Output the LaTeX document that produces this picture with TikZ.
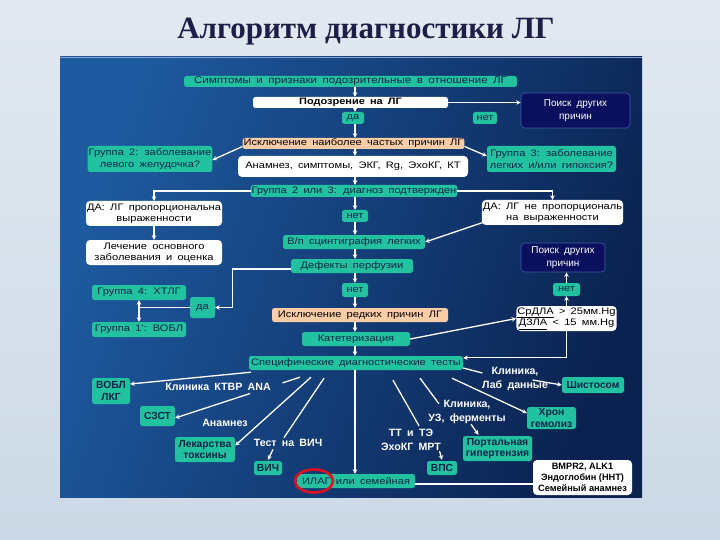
\documentclass[tikz,border=0pt]{standalone}
\usepackage{fontspec}
\setmainfont{Liberation Sans}
\newfontfamily\boxfont[FakeStretch=1.18,WordSpace=1.7]{Liberation Sans}
\newfontfamily\lblfont[WordSpace=1.8]{Liberation Sans}
\newfontfamily\titlefont{Liberation Serif}
\usetikzlibrary{arrows.meta,calc,shapes.geometric}
\definecolor{tealc}{HTML}{22C2A0}
\definecolor{txtnavy}{HTML}{0C2448}
\definecolor{peach}{HTML}{FBCDA6}
\definecolor{navyc}{HTML}{0A0F5E}
\definecolor{navyb}{HTML}{3D5DA8}
\definecolor{ringred}{HTML}{E01020}
\definecolor{titlecol}{HTML}{1C1F48}
\definecolor{bgtop}{HTML}{E2E9F0}
\definecolor{bgbot}{HTML}{CCD9E6}
\definecolor{panL}{HTML}{1E5AA0}
\definecolor{panR}{HTML}{0A2250}
\tikzset{
  sz/.style 2 args={minimum width=#1, minimum height=#2},
  bx/.style={rounded corners=2.5pt, inner sep=1pt, align=center,
    font=\boxfont\fontsize{9.4}{11.5}\selectfont, text=txtnavy},
  tb/.style={bx, fill=tealc},
  wb/.style={bx, fill=white, text=black},
  pb/.style={bx, fill=peach, text=black},
  nb/.style={bx, fill=navyc, draw=navyb, line width=0.6pt, text=white, rounded corners=4pt,
    font=\lblfont\fontsize{10}{12.5}\selectfont},
  bb/.style={bx, fill=tealc, font=\bfseries\fontsize{10.3}{11.5}\selectfont},
  lb/.style={text=white, font=\lblfont\bfseries\fontsize{10.6}{13.5}\selectfont, align=center, inner sep=0.5pt},
  cn/.style={draw=white, line width=1.3pt},
  ar/.style={cn, -{Stealth[length=4.5pt,width=4.5pt]}},
}
\begin{document}
\begin{tikzpicture}[x=1pt,y=-1pt]
\useasboundingbox (0,0) rectangle (720,540);
\shade[top color=bgtop, bottom color=bgbot] (0,0) rectangle (720,540);
\shade[left color=panL, right color=panR, shading angle=70] (60,57) rectangle (642,497);
\draw[navyb!60!white, line width=0.6pt] (60,57) -- (642,57);

\node[font=\titlefont\bfseries\fontsize{31}{33}\selectfont, text=titlecol] (title) at (366,32) {Алгоритм диагностики ЛГ};

% nodes
\node[tb, sz={333}{11}, font=\boxfont\fontsize{9.8}{11}\selectfont] (sym) at (350.5,81.5) {Симптомы  и  признаки  подозрительные  в  отношение  ЛГ};
\node[wb, sz={195}{11}, font=\boxfont\bfseries\fontsize{9.3}{11}\selectfont] (pod) at (350.5,102.5) {Подозрение на ЛГ};
\node[nb, sz={109}{35}] (poisk1) at (575.5,110.5) {Поиск других\\причин};
\node[tb, sz={22}{12}] (da1) at (353,118) {да};
\node[tb, sz={24}{12}] (net1) at (485,118) {нет};
\node[pb, sz={221}{11}] (iskl1) at (353.5,143.5) {Исключение  наиболее  частых  причин  ЛГ};
\node[tb, sz={120}{26}] (gr2) at (150,159) {Группа  2:  заболевание\\левого  желудочка?};
\node[tb, sz={129}{26}] (gr3) at (551.5,159) {Группа  3:  заболевание\\легких  и/или  гипоксия?};
\node[wb, sz={230}{21}, rounded corners=4pt] (anam) at (353,166.5) {Анамнез,  симптомы,  ЭКГ,  Rg,  ЭхоКГ,  КТ};
\node[tb, sz={202}{12}] (gr23) at (354,191) {Группа  2  или  3:  диагноз  подтвержден};
\node[wb, sz={136}{25}, rounded corners=4pt] (dal) at (154,213.5) {ДА:  ЛГ  пропорциональна\\выраженности};
\node[wb, sz={136}{25}, rounded corners=4pt] (lech) at (154,252.5) {Лечение  основного\\заболевания  и  оценка};
\node[wb, sz={139}{25}, rounded corners=4pt] (dar) at (552.5,212.5) {ДА:  ЛГ  не  пропорциональ\\на  выраженности};
\node[tb, sz={26}{12}] (net2) at (355,216) {нет};
\node[tb, sz={142}{14}] (scint) at (354,242) {В/п  сцинтиграфия  легких};
\node[tb, sz={122}{14}] (def) at (352,266) {Дефекты  перфузии};
\node[tb, sz={26}{14}] (net3) at (355,290) {нет};
\node[tb, sz={94}{15}] (gr4) at (139,292.5) {Группа  4:  ХТЛГ};
\node[tb, sz={25}{21}] (da2) at (202.5,307.5) {да};
\node[tb, sz={94}{15}] (gr1) at (139,329.5) {Группа  1':  ВОБЛ};
\node[pb, sz={176}{14}] (iskl2) at (360,315) {Исключение  редких  причин  ЛГ};
\node[tb, sz={108}{14}] (kat) at (356,339) {Катетеризация};
\node[wb, sz={99}{25}, rounded corners=4pt] (srdla) at (566.5,318.5) {\underline{СрДЛА}  >  25мм.Hg\\\underline{ДЗЛА}  <  15  мм.Hg};
\node[tb, sz={27}{13}] (net4) at (566.5,289.5) {нет};
\node[nb, sz={84}{29}] (poisk2) at (563,257.5) {Поиск других\\причин};
\node[tb, sz={214}{14}] (spec) at (356,363) {Специфические  диагностические  тесты};
\node[tb, sz={118}{14}] (ilag) at (356,481) {ИЛАГ  или  семейная};
\node[draw=ringred, line width=2.6pt, ellipse, inner sep=0pt, sz={38}{23}] (ring) at (314,481) {};
\node[wb, sz={99}{35}, rounded corners=4pt, font=\bfseries\fontsize{9.2}{10.8}\selectfont] (bmpr) at (582.5,477.5) {BMPR2, ALK1\\Эндоглобин (ННТ)\\Семейный анамнез};

\node[bb, sz={38}{26}] (vobl) at (111,391) {ВОБЛ\\ЛКГ};
\node[bb, sz={35}{20}] (szst) at (157.5,416) {СЗСТ};
\node[bb, sz={60}{25}] (lek) at (205,449.5) {Лекарства\\токсины};
\node[bb, sz={28}{14}] (vich) at (268,468) {ВИЧ};
\node[bb, sz={62}{16}] (shist) at (593,385) {Шистосом};
\node[bb, sz={49}{22}] (hron) at (551.5,418) {Хрон\\гемолиз};
\node[bb, sz={69}{25}] (port) at (497.5,448.5) {Портальная\\гипертензия};
\node[bb, sz={30}{14}] (vps) at (442,468) {ВПС};

\node[lb] (L1) at (218,387) {Клиника  КТВР  ANA};
\node[lb] (L2) at (225,423) {Анамнез};
\node[lb] (L3) at (288,443) {Тест на ВИЧ};
\node[lb] (L4) at (515,379) {Клиника,\\Лаб данные};
\node[lb] (L5) at (467,412) {Клиника,\\УЗ, ферменты};
\node[lb] (L6) at (411,440) {ТТ и ТЭ\\ЭхоКГ МРТ};

% main column
\coordinate (col) at (355,0);
\draw[ar] (sym.south -| col) -- (pod.north -| col);
\draw[ar] (pod.south -| col) -- (da1.north -| col);
\draw[ar] (da1.south -| col) -- (iskl1.north -| col);
\draw[ar] (iskl1.south -| col) -- (anam.north -| col);
\draw[ar] (anam.south -| col) -- (gr23.north -| col);
\draw[ar] (gr23.south -| col) -- (net2.north -| col);
\draw[ar] (net2.south -| col) -- (scint.north -| col);
\draw[ar] (scint.south -| col) -- (def.north -| col);
\draw[ar] (def.south -| col) -- (net3.north -| col);
\draw[ar] (net3.south -| col) -- (iskl2.north -| col);
\draw[ar] (iskl2.south -| col) -- (kat.north -| col);
\draw[ar] (kat.south -| col) -- (spec.north -| col);
\draw[ar] (spec.south -| col) -- (ilag.north -| col);

\draw[ar] (pod.east) -- (poisk1.west |- pod.east);
\draw[ar] ($(iskl1.west)+(0,3)$) -- ($(gr2.east)+(0,1)$);
\draw[ar] ($(iskl1.east)+(0,3)$) -- ($(gr3.west)+(0,-3)$);
\draw[ar] (gr23.west) -| (dal.north);
\draw[ar] (gr23.east) -| (dar.north);
\draw[ar] (dal.south) -- (lech.north);
\draw[ar] ($(dar.south west)+(2,-3)$) -- (scint.east);
\draw[ar] ($(def.west)+(0,3)$) -- ++(-58,0) |- (da2.east);
\coordinate (j) at (gr4.south |- da2.west);
\draw[cn] (da2.west) -- (j);
\draw[ar] (j) -- (gr4.south);
\draw[ar] (j) -- (gr1.north);
\draw[ar] (kat.east) -- (srdla.west);
\draw[ar] (srdla.north) -- (net4.south);
\draw[ar] (net4.north) -- (net4.north |- poisk2.south);
\draw[ar] (srdla.south) |- ($(spec.north east)+(0,2)$);
\coordinate (ie) at ($(ilag.east)+(0,3)$);
\draw[cn] (ie) -- (ie -| bmpr.west);

% left branches
\coordinate (sA) at ($(spec.south west)+(2,2)$);
\draw[ar] (sA) -- ($(vobl.east)+(0,-7)$);
\coordinate (sB) at ($(spec.south)+(-56,7)$);
\path (sB) -- ($(szst.east)+(0,2)$) coordinate[pos=0.14] (gB1) coordinate[pos=0.40] (gB2) coordinate[pos=1] (eB);
\draw[cn] (sB) -- (gB1);
\draw[ar] (gB2) -- (eB);
\coordinate (sC) at ($(spec.south)+(-45,7)$);
\draw[ar] (sC) -- ($(lek.east)+(0,-4)$);
\coordinate (sD) at ($(spec.south)+(-32,8)$);
\draw[cn] (sD) -- ($(L3.north)+(-4,-1)$);
\draw[ar] ($(L3.south)+(-15,2)$) -- ($(vich.north)+(0,-1)$);

% right branches
\coordinate (sE) at ($(spec.south)+(37,10)$);
\draw[cn] (sE) -- ($(L6.north)+(8,-3)$);
\draw[ar] ($(L6.south east)+(-2,0)$) -- ($(vps.north)+(0,-1)$);
\coordinate (sF) at ($(spec.south)+(64,8)$);
\draw[cn] (sF) -- ($(L5.north)+(-28,4)$);
\draw[ar] ($(L5.south)+(4,0)$) -- ($(port.north)+(-19,-1)$);
\coordinate (sG) at ($(spec.south)+(96,8)$);
\draw[ar] (sG) -- ($(hron.west)+(0,-5)$);
\coordinate (sH) at ($(spec.east)+(0,5)$);
\draw[cn] (sH) -- ($(L4.west)+(1,-6)$);
\draw[ar] ($(L4.east)+(-16,1)$) -- (shist.west);
\end{tikzpicture}
\end{document}
